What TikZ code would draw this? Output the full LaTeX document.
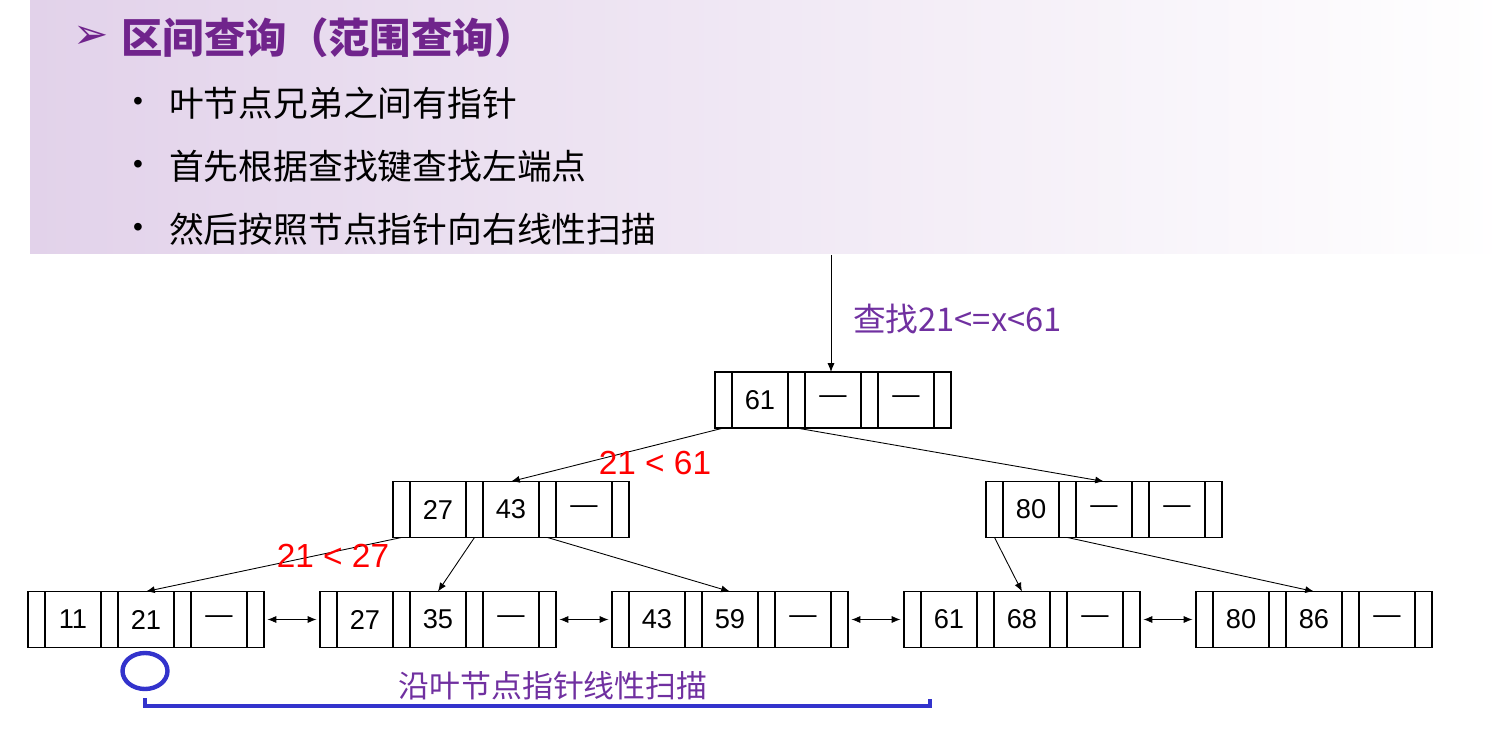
\documentclass[tikz,border=0pt]{standalone}
\usepackage{fontspec}
\setmainfont{Liberation Sans}
\newfontfamily\cjk{Noto Sans CJK SC}
\newfontfamily\dingfont{DejaVu Sans}
\usetikzlibrary{positioning,arrows.meta,shapes.geometric}

\definecolor{titlepurple}{RGB}{112,36,140}
\definecolor{labelpurple}{RGB}{112,48,160}
\definecolor{scanblue}{RGB}{51,51,204}
\definecolor{bgpurple}{RGB}{226,210,234}

\tikzset{
  ptr/.style={draw, line width=0.7pt, minimum width=0.34cm, minimum height=1.12cm, inner sep=0pt, outer sep=0pt},
  key/.style={ptr, minimum width=1.12cm, font=\fontsize{15.5}{18}\selectfont},
  ptrarrow/.style={-{Latex[length=5pt,width=4pt]}, line width=0.5pt},
  leafarrow/.style={{Latex[length=5pt,width=4pt]}-{Latex[length=5pt,width=4pt]}, line width=0.5pt, shorten <=2pt, shorten >=2pt},
  redlabel/.style={text=red, font=\fontsize{19}{22}\selectfont},
  purplelabel/.style={text=labelpurple, font=\cjk\fontsize{17.6}{20}\selectfont},
  bullettext/.style={anchor=west, font=\cjk\fontsize{19.8}{22}\selectfont}
}

% one B+ tree node: pointer, key, pointer, key, pointer, key, pointer
\newcommand{\bpnode}[6]{%
  \node[ptr] (#1p0) at (#2,#3) {};
  \node[key, right=0pt of #1p0] (#1k1) {#4};
  \node[ptr, right=0pt of #1k1] (#1p1) {};
  \node[key, right=0pt of #1p1] (#1k2) {#5};
  \node[ptr, right=0pt of #1k2] (#1p2) {};
  \node[key, right=0pt of #1p2] (#1k3) {#6};
  \node[ptr, right=0pt of #1k3] (#1p3) {};
}

\begin{document}
\begin{tikzpicture}[x=0.02cm, y=-0.02cm]
        \useasboundingbox (0,0) rectangle (1508,729);
        \shade[left color=bgpurple, right color=white] (30,0) rectangle (1508,254);

        \node[text=titlepurple, font=\dingfont\bfseries\fontsize{24}{26}\selectfont] (arrowmark) at (91,37) {➢};
        \node[anchor=west, text=titlepurple, font=\cjk\bfseries\fontsize{23.6}{26}\selectfont] (title) at (115,38) {区间查询（范围查询）};
        \node[font=\fontsize{16}{18}\selectfont] (b1) at (138,104) {•};
        \node[font=\fontsize{16}{18}\selectfont] (b2) at (138,167) {•};
        \node[font=\fontsize{16}{18}\selectfont] (b3) at (138,230) {•};
        \node[bullettext] (t1) at (163,103) {叶节点兄弟之间有指针};
        \node[bullettext] (t2) at (163,166) {首先根据查找键查找左端点};
        \node[bullettext] (t3) at (163,229) {然后按照节点指针向右线性扫描};

        \bpnode{root}{723.5}{400}{61}{—}{—}
        \bpnode{ia}{401.5}{509.5}{27}{43}{—}
        \bpnode{ib}{994.5}{509.5}{80}{—}{—}
        \bpnode{la}{36.5}{619.5}{11}{21}{—}
        \bpnode{lb}{328.5}{619.5}{27}{35}{—}
        \bpnode{lc}{620.5}{619.5}{43}{59}{—}
        \bpnode{ld}{912.5}{619.5}{61}{68}{—}
        \bpnode{le}{1204.5}{619.5}{80}{86}{—}

        \coordinate (start) at (831,255);
        \draw[ptrarrow] (start) -- (start |- rootk2.north);
        \node[purplelabel, anchor=west, font=\cjk\fontsize{18.6}{21}\selectfont] (query) at (847,319) {查找21<=x<61};

        \draw[ptrarrow] (rootp0.south) -- (iak2.north);
        \draw[ptrarrow] (rootp1.south) -- (ibk2.north);
        \draw[ptrarrow] (iap0.south) -- (lak2.north);
        \draw[ptrarrow] (iap1.south) -- (lbk2.north);
        \draw[ptrarrow] (iap2.south) -- (lck2.north);
        \draw[ptrarrow] (ibp0.south) -- (ldk2.north);
        \draw[ptrarrow] (ibp1.south) -- (lek2.north);

        \draw[leafarrow] (lap3.east) -- (lbp0.west);
        \draw[leafarrow] (lbp3.east) -- (lcp0.west);
        \draw[leafarrow] (lcp3.east) -- (ldp0.west);
        \draw[leafarrow] (ldp3.east) -- (lep0.west);

        \node[redlabel] (cmp1) at (655,463) {21 < 61};
        \node[redlabel] (cmp2) at (333,556) {21 < 27};

        \node[ellipse, draw=scanblue, line width=2.5pt, minimum width=0.9cm, minimum height=0.72cm, inner sep=0pt] (hit) at (145,671) {};
        \coordinate (scanstart) at (145,698);
        \coordinate (scanend) at (930,699);
        \draw[scanblue, line width=2.8pt] (scanstart) -- ++(0,8) -| (scanend);
        \node[purplelabel] (scan) at (553,686) {沿叶节点指针线性扫描};
    \end{tikzpicture}
\end{document}
